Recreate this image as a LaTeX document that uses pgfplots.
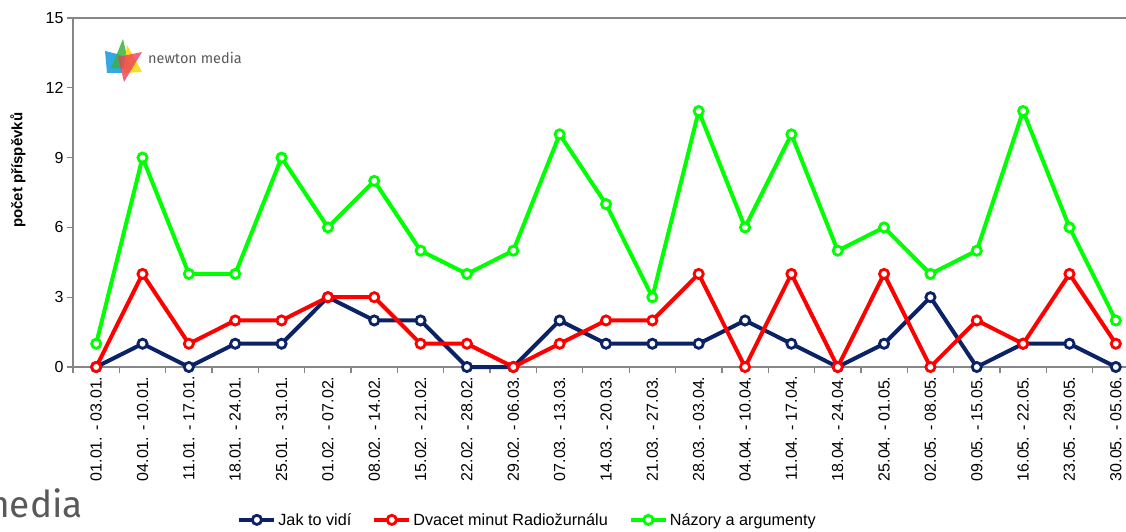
\documentclass[border=0pt]{standalone}
\usepackage{fontspec}
\setmainfont{Liberation Sans}
\newfontfamily\logofont{Fira Sans}
\usepackage{pgfplots}
\pgfplotsset{compat=1.18}
\definecolor{navy}{HTML}{0B2266}
\definecolor{axgray}{HTML}{868686}
\definecolor{logogray}{HTML}{58595B}
\definecolor{lblue}{HTML}{1E9FE0}
\definecolor{lgreen}{HTML}{3CB043}
\definecolor{lyellow}{HTML}{FFD500}
\definecolor{lred}{HTML}{EE3F5A}
\newcommand\dd[2]{\mbox{#1 - #2}}

\begin{document}
\begin{tikzpicture}[x=1pt,y=1pt]
% newton media logo
\fill[lblue, opacity=0.9] (105,480) -- (121,476) -- (122,458) -- (107,458) -- cycle;
\fill[lgreen, opacity=0.85] (123,492) -- (111,463) -- (130,462) -- cycle;
\fill[lyellow, opacity=0.85] (127,486) -- (142,459) -- (123,458) -- cycle;
\fill[lred, opacity=0.8] (142,479) -- (124,449) -- (118,474) -- cycle;
\node[anchor=base west, inner sep=0, text=logogray, font=\logofont\fontsize{14.5}{16}\selectfont] at (148,467) {newton media};
\node[anchor=base east, inner sep=0, text=logogray, font=\logofont\fontsize{37}{40}\selectfont] at (83,14) {newton media};

\begin{axis}[
  at={(73pt,164pt)}, anchor=south west,
  scale only axis, width=1066pt, height=349pt,
  xmin=-0.5, xmax=22.5, ymin=0, ymax=15,
  axis line style={draw=axgray, line width=1.3pt},
  xtick={-0.5,0.5,...,22.5}, x tick label as interval,
  xticklabels={\dd{01.01.}{03.01.},\dd{04.01.}{10.01.},\dd{11.01.}{17.01.},\dd{18.01.}{24.01.},\dd{25.01.}{31.01.},\dd{01.02.}{07.02.},\dd{08.02.}{14.02.},\dd{15.02.}{21.02.},\dd{22.02.}{28.02.},\dd{29.02.}{06.03.},\dd{07.03.}{13.03.},\dd{14.03.}{20.03.},\dd{21.03.}{27.03.},\dd{28.03.}{03.04.},\dd{04.04.}{10.04.},\dd{11.04.}{17.04.},\dd{18.04.}{24.04.},\dd{25.04.}{01.05.},\dd{02.05.}{08.05.},\dd{09.05.}{15.05.},\dd{16.05.}{22.05.},\dd{23.05.}{29.05.},\dd{30.05.}{05.06.}},
  ytick={0,3,...,15},
  xtick pos=left, ytick pos=left,
  tick align=outside, major tick length=6pt,
  tick style={draw=axgray, line width=1.3pt},
  /pgf/number format/assume math mode=true,
  xticklabel style={rotate=90, anchor=east, font=\fontsize{16}{18}\selectfont},
  yticklabel style={font=\fontsize{16}{18}\selectfont},
  ylabel={počet příspěvků},
  y label style={at={(axis description cs:-0.0516,0.564)}, anchor=center, font=\bfseries\fontsize{15}{17}\selectfont},
  clip=false,
  legend style={at={(0.4264,-0.438)}, anchor=center, draw=none, fill=none,
    legend columns=-1, font=\fontsize{16.2}{18}\selectfont,
    nodes={inner sep=2pt},
    /tikz/every even column/.append style={column sep=19pt}},
  legend image code/.code={\draw[mark repeat=2,mark phase=2,#1] plot coordinates {(0pt,0pt) (17.5pt,0pt) (35pt,0pt)};},
  every axis plot/.append style={line width=4pt, mark=*, mark size=4.6pt, mark options={fill=white, line width=2.8pt, solid}},
]
\addplot[navy] coordinates {(0,0) (1,1) (2,0) (3,1) (4,1) (5,3) (6,2) (7,2) (8,0) (9,0) (10,2) (11,1) (12,1) (13,1) (14,2) (15,1) (16,0) (17,1) (18,3) (19,0) (20,1) (21,1) (22,0)};
\addlegendentry{Jak to vidí}
\addplot[red] coordinates {(0,0) (1,4) (2,1) (3,2) (4,2) (5,3) (6,3) (7,1) (8,1) (9,0) (10,1) (11,2) (12,2) (13,4) (14,0) (15,4) (16,0) (17,4) (18,0) (19,2) (20,1) (21,4) (22,1)};
\addlegendentry{Dvacet minut Radiožurnálu}
\addplot[green] coordinates {(0,1) (1,9) (2,4) (3,4) (4,9) (5,6) (6,8) (7,5) (8,4) (9,5) (10,10) (11,7) (12,3) (13,11) (14,6) (15,10) (16,5) (17,6) (18,4) (19,5) (20,11) (21,6) (22,2)};
\addlegendentry{Názory a argumenty}
\end{axis}
\pgfresetboundingbox
\useasboundingbox (0,0) rectangle (1126,531);
\end{tikzpicture}
\end{document}
